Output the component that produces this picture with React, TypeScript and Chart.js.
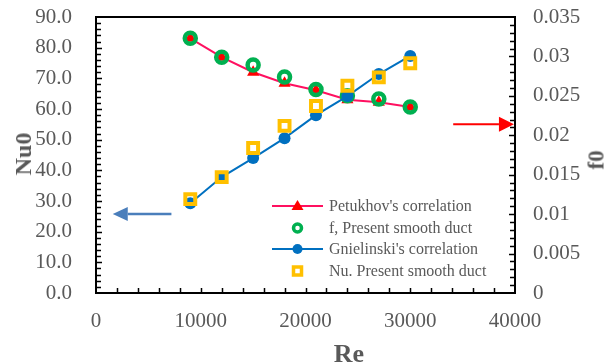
import React, { useEffect, useRef } from "react";
import { Chart, registerables } from "chart.js";

Chart.register(...registerables);

// ---- data ----
const reynolds = [9000, 12000, 15000, 18000, 21000, 24000, 27000, 30000];
const petukhovF = [0.0323, 0.0299, 0.028, 0.0266, 0.0257, 0.0245, 0.0242, 0.0236];
const presentF = [0.0323, 0.0299, 0.0289, 0.0274, 0.0258, 0.025, 0.0246, 0.0236];
const gnielinskiNu = [29.3, 37.8, 44.0, 50.5, 58.0, 64.2, 71.4, 77.3];
const presentNu = [30.6, 37.8, 47.3, 54.5, 61.0, 67.6, 70.3, 74.9];

const xTickValues = [0, 10000, 20000, 30000, 40000];
const nuTickValues = [0, 10, 20, 30, 40, 50, 60, 70, 80, 90];
const fTickValues = [0, 0.005, 0.01, 0.015, 0.02, 0.025, 0.03, 0.035];
const xMinorStep = 2000;
const nuMinorStep = 2;
const fMinorStep = 0.001;

const legendLabels = [
  "Petukhov's correlation",
  "f, Present smooth duct",
  "Gnielinski's correlation",
  "Nu. Present smooth duct",
];

// annotation arrows (data units)
const blueArrowRe = [7200, 1600];
const blueArrowNu = 25.8;
const redArrowRe = [34100, 39900];
const redArrowF = 0.0214;

const FONT = "'Liberation Serif', 'Times New Roman', serif";
const GREY = "#595959";

function drawArrow(ctx: CanvasRenderingContext2D, x1: number, y1: number, x2: number, y2: number, color: string, lw: number, headLen: number, headHalf: number) {
  const ang = Math.atan2(y2 - y1, x2 - x1);
  const bx = x2 - Math.cos(ang) * headLen;
  const by = y2 - Math.sin(ang) * headLen;
  ctx.save();
  ctx.strokeStyle = color;
  ctx.fillStyle = color;
  ctx.lineWidth = lw;
  ctx.beginPath();
  ctx.moveTo(x1, y1);
  ctx.lineTo(bx, by);
  ctx.stroke();
  ctx.beginPath();
  ctx.moveTo(x2, y2);
  ctx.lineTo(bx - Math.sin(ang) * headHalf, by + Math.cos(ang) * headHalf);
  ctx.lineTo(bx + Math.sin(ang) * headHalf, by - Math.cos(ang) * headHalf);
  ctx.closePath();
  ctx.fill();
  ctx.restore();
}

const framePlugin = {
  id: "frame",
  beforeDatasetsDraw(chart: any) {
    const ctx = chart.ctx as CanvasRenderingContext2D;
    const x = chart.scales.x;
    const yNu = chart.scales.yNu;
    const yF = chart.scales.yF;
    drawArrow(
      ctx,
      x.getPixelForValue(blueArrowRe[0]), yNu.getPixelForValue(blueArrowNu),
      x.getPixelForValue(blueArrowRe[1]), yNu.getPixelForValue(blueArrowNu),
      "#4A7EBB", 2.5, 15, 7
    );
    drawArrow(
      ctx,
      x.getPixelForValue(redArrowRe[0]), yF.getPixelForValue(redArrowF),
      x.getPixelForValue(redArrowRe[1]), yF.getPixelForValue(redArrowF),
      "#FF0000", 2, 15, 7.5
    );
  },
  afterDraw(chart: any) {
    const ctx = chart.ctx as CanvasRenderingContext2D;
    const { left, right, top, bottom } = chart.chartArea;
    const x = chart.scales.x;
    const yNu = chart.scales.yNu;
    const yF = chart.scales.yF;
    ctx.save();
    ctx.strokeStyle = "#000";
    ctx.lineWidth = 1.5;
    ctx.beginPath();
    for (let v = x.min + xMinorStep; v < x.max - 1e-9; v += xMinorStep) {
      const px = Math.round(x.getPixelForValue(v)) + 0.5;
      ctx.moveTo(px, bottom);
      ctx.lineTo(px, bottom - 5);
    }
    for (let v = yNu.min + nuMinorStep; v < yNu.max - 1e-9; v += nuMinorStep) {
      const py = Math.round(yNu.getPixelForValue(v)) + 0.5;
      const major = Math.abs(v / 10 - Math.round(v / 10)) < 1e-6;
      ctx.moveTo(left, py);
      ctx.lineTo(left + (major ? 6 : 5), py);
    }
    for (let i = 1; i < Math.round((yF.max - yF.min) / fMinorStep); i++) {
      const v = yF.min + i * fMinorStep;
      const py = Math.round(yF.getPixelForValue(v)) + 0.5;
      const major = i % 5 === 0;
      ctx.moveTo(right, py);
      ctx.lineTo(right - (major ? 6 : 5), py);
    }
    ctx.stroke();
    ctx.lineWidth = 2;
    ctx.strokeRect(left, top, right - left, bottom - top);
    ctx.restore();
  },
};

function LegendIcon({ kind }: { kind: number }) {
  const w = 52;
  const h = 22;
  const cx = 25.5;
  const cy = 11;
  if (kind === 0) {
    return (
      <svg width={w} height={h}>
        <line x1={0} y1={cy} x2={w - 1} y2={cy} stroke="#FF1060" strokeWidth={2} />
        <polygon points={`${cx},${cy - 6} ${cx + 6},${cy + 4} ${cx - 6},${cy + 4}`} fill="#FF0000" />
      </svg>
    );
  }
  if (kind === 1) {
    return (
      <svg width={w} height={h}>
        <circle cx={cx} cy={cy} r={4} fill="#fff" stroke="#00B050" strokeWidth={3.5} />
      </svg>
    );
  }
  if (kind === 2) {
    return (
      <svg width={w} height={h}>
        <line x1={0} y1={cy} x2={w - 1} y2={cy} stroke="#0070C0" strokeWidth={2} />
        <circle cx={cx} cy={cy} r={5} fill="#0070C0" />
      </svg>
    );
  }
  return (
    <svg width={w} height={h}>
      <rect x={cx - 4} y={cy - 4} width={8} height={8} fill="#fff" stroke="#FFC000" strokeWidth={3.5} />
    </svg>
  );
}

const zeroPad = (s: any) => {
  s.paddingTop = 0;
  s.paddingBottom = 0;
  s.paddingLeft = 0;
  s.paddingRight = 0;
};

export default function App() {
  const canvasRef = useRef<HTMLCanvasElement | null>(null);

  useEffect(() => {
    const canvas = canvasRef.current;
    if (!canvas) return;
    const tickFont = { family: FONT, size: 21 };
    const chart = new Chart(canvas, {
      type: "scatter",
      data: {
        datasets: [
          {
            label: legendLabels[0],
            data: reynolds.map((r, i) => ({ x: r, y: petukhovF[i] })),
            yAxisID: "yF",
            showLine: true,
            borderColor: "#FF1060",
            borderWidth: 2,
            pointStyle: "triangle",
            pointRadius: 7,
            pointBackgroundColor: "#FF0000",
            pointBorderColor: "#FF0000",
            pointBorderWidth: 0,
            order: 4,
          },
          {
            label: legendLabels[1],
            data: reynolds.map((r, i) => ({ x: r, y: presentF[i] })),
            yAxisID: "yF",
            showLine: false,
            pointStyle: "circle",
            pointRadius: 5.5,
            pointBorderWidth: 4.5,
            pointBorderColor: "#00B050",
            pointBackgroundColor: "rgba(0,0,0,0)",
            order: 3,
          },
          {
            label: legendLabels[2],
            data: reynolds.map((r, i) => ({ x: r, y: gnielinskiNu[i] })),
            yAxisID: "yNu",
            showLine: true,
            borderColor: "#0070C0",
            borderWidth: 2,
            pointStyle: "circle",
            pointRadius: 6,
            pointBackgroundColor: "#0070C0",
            pointBorderColor: "#0070C0",
            pointBorderWidth: 0,
            order: 2,
          },
          {
            label: legendLabels[3],
            data: reynolds.map((r, i) => ({ x: r, y: presentNu[i] })),
            yAxisID: "yNu",
            showLine: false,
            pointStyle: "rect",
            pointRadius: 7,
            pointBorderWidth: 4,
            pointBorderColor: "#FFC000",
            pointBackgroundColor: "rgba(0,0,0,0)",
            order: 1,
          },
        ],
      },
      options: {
        animation: false,
        responsive: false,
        events: [],
        layout: { padding: { top: 17, left: 0, right: 0, bottom: 0 } },
        plugins: { legend: { display: false }, tooltip: { enabled: false } },
        scales: {
          x: {
            type: "linear",
            position: "bottom",
            min: 0,
            max: 40000,
            grid: { display: false, drawTicks: false },
            border: { display: false },
            afterBuildTicks: (s: any) => {
              s.ticks = xTickValues.map((v) => ({ value: v }));
            },
            afterFit: (s: any) => {
              s.height = 69;
              zeroPad(s);
            },
            ticks: {
              font: tickFont,
              color: GREY,
              padding: 16,
              maxRotation: 0,
              autoSkip: false,
              callback: (v: any) => String(v),
            },
          },
          yNu: {
            type: "linear",
            position: "left",
            min: 0,
            max: 90,
            grid: { display: false, drawTicks: false },
            border: { display: false },
            afterBuildTicks: (s: any) => {
              s.ticks = nuTickValues.map((v) => ({ value: v }));
            },
            afterFit: (s: any) => {
              s.width = 96;
              zeroPad(s);
            },
            ticks: {
              font: tickFont,
              color: GREY,
              padding: 24,
              autoSkip: false,
              callback: (v: any) => Number(v).toFixed(1),
            },
          },
          yF: {
            type: "linear",
            position: "right",
            min: 0,
            max: 0.035,
            grid: { display: false, drawTicks: false },
            border: { display: false },
            afterBuildTicks: (s: any) => {
              s.ticks = fTickValues.map((v) => ({ value: v }));
            },
            afterFit: (s: any) => {
              s.width = 96;
              zeroPad(s);
            },
            ticks: {
              font: tickFont,
              color: GREY,
              padding: 18,
              autoSkip: false,
              callback: (v: any) => String(v),
            },
          },
        },
      },
      plugins: [framePlugin],
    } as any);
    return () => chart.destroy();
  }, []);

  const titleStyle: React.CSSProperties = {
    position: "absolute",
    fontFamily: FONT,
    fontWeight: "bold",
    color: GREY,
    lineHeight: 1,
    whiteSpace: "nowrap",
    transform: "translate(-50%, -50%)",
  };

  return (
    <div style={{ position: "fixed", left: 0, top: 0, width: 611, height: 362, background: "#fff", overflow: "hidden" }}>
      <canvas ref={canvasRef} width={611} height={362} style={{ display: "block" }} />
      <div style={{ ...titleStyle, left: 349, top: 354, fontSize: 26 }}>Re</div>
      <div style={{ ...titleStyle, left: 23, top: 154, fontSize: 24, transform: "translate(-50%, -50%) rotate(-90deg)" }}>Nu0</div>
      <div style={{ ...titleStyle, left: 596, top: 160, fontSize: 23, transform: "translate(-50%, -50%) rotate(-90deg)" }}>f0</div>
      <div style={{ position: "absolute", left: 272, top: 195, fontFamily: FONT, fontSize: 16, color: GREY }}>
        {legendLabels.map((lbl, i) => (
          <div key={i} style={{ display: "flex", alignItems: "center", height: 21.7, whiteSpace: "nowrap" }}>
            <LegendIcon kind={i} />
            <span style={{ marginLeft: 5 }}>{lbl}</span>
          </div>
        ))}
      </div>
    </div>
  );
}
